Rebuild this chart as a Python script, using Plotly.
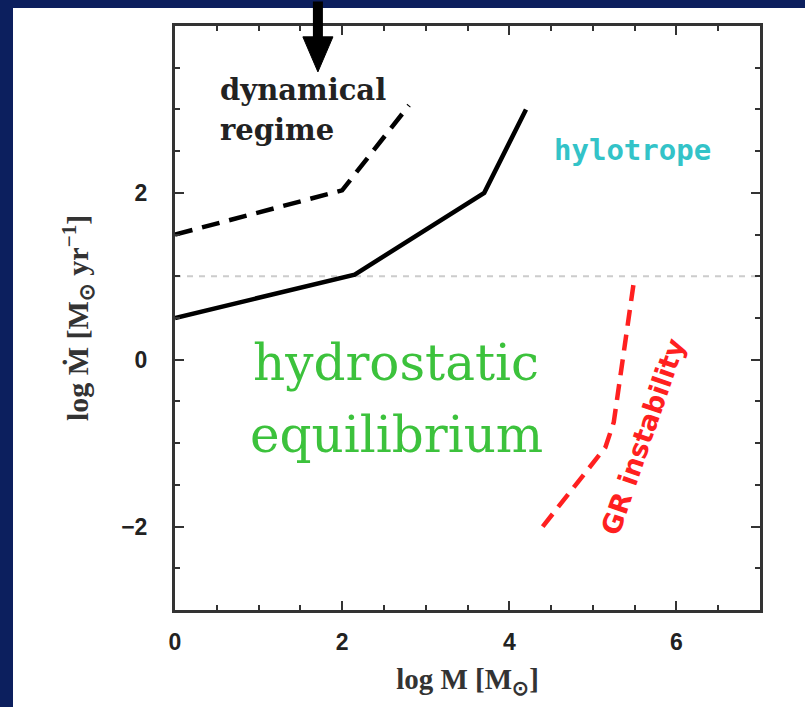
import plotly.graph_objects as go

# Data
solid_x = [0.0, 2.15, 3.7, 4.2]
solid_y = [0.5, 1.02, 2.0, 3.0]
dash_x = [0.0, 2.0, 2.8]
dash_y = [1.5, 2.03, 3.05]
gr_x = [4.4, 5.15, 5.25, 5.5]
gr_y = [-2.0, -1.05, -0.75, 1.0]
ref_y = 1.0
arrow_x = 1.71
arrow_tip_y = 3.45
arrow_head_top = 3.87
arrow_half_w = 0.18
x_ticks = [0, 2, 4, 6]
y_ticks = [-2, 0, 2]

fig = go.Figure()
fig.add_trace(go.Scatter(x=[0, 7], y=[ref_y, ref_y], mode="lines",
                         line=dict(color="#cccccc", width=2, dash="6px,6px"),
                         showlegend=False, hoverinfo="skip"))
fig.add_trace(go.Scatter(x=solid_x, y=solid_y, mode="lines",
                         line=dict(color="black", width=4.5), showlegend=False))
fig.add_trace(go.Scatter(x=dash_x, y=dash_y, mode="lines",
                         line=dict(color="black", width=4.5, dash="18px,10px"), showlegend=False))
fig.add_trace(go.Scatter(x=gr_x, y=gr_y, mode="lines",
                         line=dict(color="#ff2020", width=4.5, dash="16px,9px"), showlegend=False))

# arrow head (filled triangle)
fig.add_shape(type="path", xref="x", yref="y",
              path=f"M {arrow_x - arrow_half_w},{arrow_head_top} L {arrow_x + arrow_half_w},{arrow_head_top} L {arrow_x},{arrow_tip_y} Z",
              fillcolor="black", line=dict(color="black", width=1))
# arrow shaft
fig.add_annotation(x=arrow_x, y=arrow_head_top - 0.02, xref="x", yref="y", text="",
                   showarrow=True, arrowhead=0, arrowwidth=10, arrowcolor="black",
                   ax=0, ay=-50)

serif = "DejaVu Serif"
fig.add_annotation(x=0.51, y=3.23, text="<b>dynamical</b>", showarrow=False, xanchor="left",
                   font=dict(family=serif, size=29, color="#222222"))
fig.add_annotation(x=0.51, y=2.75, text="<b>regime</b>", showarrow=False, xanchor="left",
                   font=dict(family=serif, size=29, color="#222222"))
fig.add_annotation(x=5.47, y=2.51, text="<b>hylotrope</b>", showarrow=False,
                   font=dict(family="DejaVu Sans Mono", size=29, color="#33c3c8"))
fig.add_annotation(x=2.65, y=-0.04, text="hydrostatic", showarrow=False,
                   font=dict(family=serif, size=50, color="#3cc23c", weight=500))
fig.add_annotation(x=2.65, y=-0.9, text="equilibrium", showarrow=False,
                   font=dict(family=serif, size=50, color="#3cc23c", weight=500))
fig.add_annotation(x=5.6, y=-0.92, text="<b>GR instability</b>", showarrow=False,
                   textangle=-71, font=dict(family="DejaVu Sans", size=27, color="#ff2020"))

# navy frame
navy = "#0c1f5e"
fig.add_shape(type="rect", xref="paper", yref="paper", layer="above",
              x0=-175/585, x1=630/585, y0=1 + 18/584, y1=1 + 26/584,
              fillcolor=navy, line=dict(width=0))
fig.add_shape(type="rect", xref="paper", yref="paper", layer="above",
              x0=-175/585, x1=-162/585, y0=-97/584, y1=1 + 26/584,
              fillcolor=navy, line=dict(width=0))

axis_common = dict(showgrid=False, zeroline=False, showline=True, linecolor="#333333",
                   linewidth=3, mirror="ticks", ticks="inside", ticklen=9, tickwidth=2,
                   tickcolor="#333333",
                   tickfont=dict(family="Liberation Sans", size=23, color="#222222", weight="bold"),
                   minor=dict(ticks="inside", ticklen=5, tickwidth=2, tickcolor="#333333", dtick=0.5))

fig.update_xaxes(range=[0, 7], tickvals=x_ticks, ticktext=[str(v) for v in x_ticks],
                 title=dict(text="<b>log M [M<sub>⊙</sub>]</b>", standoff=16,
                            font=dict(family="Liberation Serif", size=29, color="#333333")),
                 ticklabelstandoff=9, **axis_common)
fig.update_yaxes(range=[-3, 4], tickvals=y_ticks,
                 title=dict(text="<b>log Ṁ [M<sub>⊙</sub> yr<sup>−1</sup>]</b>", standoff=24,
                            font=dict(family="Liberation Serif", size=30, color="#333333")),
                 ticklabelstandoff=20, **axis_common)

fig.update_layout(width=805, height=707, margin=dict(l=175, r=45, t=26, b=97),
                  paper_bgcolor="white", plot_bgcolor="white")

fig.write_html("out.html")
